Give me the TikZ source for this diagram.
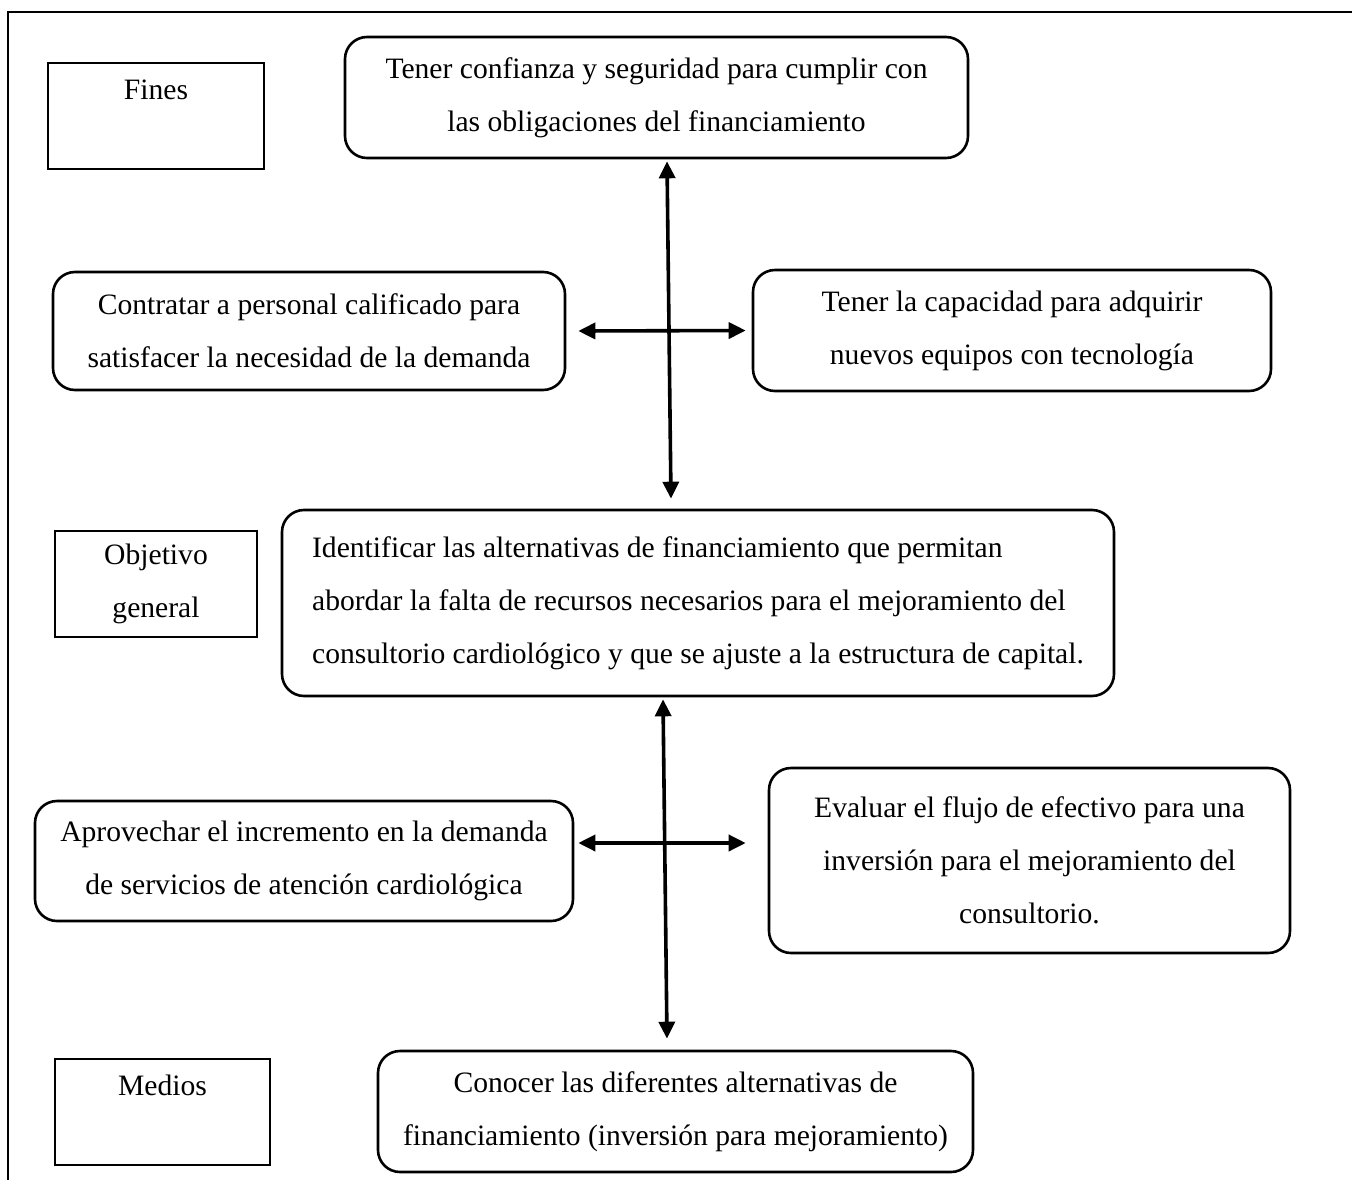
\documentclass[tikz,border=0pt]{standalone}
\usepackage{fontspec}
\setmainfont{Liberation Serif}
\usetikzlibrary{arrows.meta,calc}
\begin{document}
\begin{tikzpicture}[x=1pt,y=-1pt,
  txt/.style={font=\fontsize{29.6}{53}\selectfont, align=center, inner sep=0pt, line width=2.6pt, draw},
  sqbox/.style={txt},
  rbox/.style={txt, rounded corners=22pt},
  dbl/.style={{Triangle[length=17pt,width=16pt]}-{Triangle[length=17pt,width=16pt]}, line width=3.6pt}]
\useasboundingbox (0,0) rectangle (1352,1180);
\draw[line width=2.6pt] (8,1190) -- (8,12) -- (1362,12);

\node[sqbox, minimum width=216pt, minimum height=106pt] (fines) at (156,116) {Fines\\ ~};
\node[rbox, minimum width=623pt, minimum height=121pt] (top) at (656.5,97.5)
  {Tener confianza y seguridad para cumplir con\\las obligaciones del financiamiento};
\node[rbox, minimum width=512pt, minimum height=118pt] (contratar) at (309,331)
  {Contratar a personal calificado para\\satisfacer la necesidad de la demanda};
\node[rbox, minimum width=518pt, minimum height=121pt] (capacidad) at (1012,330.5)
  {Tener la capacidad para adquirir\\nuevos equipos con tecnología};
\node[sqbox, minimum width=202pt, minimum height=106pt] (objetivo) at (156,584)
  {Objetivo\\general};
\node[rbox, align=left, minimum width=832pt, minimum height=186pt] (big) at (698,603)
  {Identificar las alternativas de financiamiento que permitan\\abordar la falta de recursos necesarios para el mejoramiento del\\consultorio cardiológico y que se ajuste a la estructura de capital.};
\node[rbox, minimum width=538pt, minimum height=120pt] (aprovechar) at (304,861)
  {Aprovechar el incremento en la demanda\\de servicios de atención cardiológica};
\node[rbox, minimum width=521pt, minimum height=185pt] (evaluar) at (1029.5,860.5)
  {Evaluar el flujo de efectivo para una\\inversión para el mejoramiento del\\consultorio.};
\node[sqbox, minimum width=215pt, minimum height=106pt] (medios) at (162.5,1112)
  {Medios\\ ~};
\node[rbox, minimum width=595pt, minimum height=121pt] (bottom) at (675.5,1111.5)
  {Conocer las diferentes alternativas de\\financiamiento (inversión para mejoramiento)};

\draw[dbl] ([xshift=10.5pt,yshift=-2pt]top.south) -- ([xshift=-27pt,yshift=10pt]big.north);
\draw[dbl] ([xshift=12pt]contratar.east) -- ([xshift=-6pt]capacidad.west);
\draw[dbl] ([xshift=-35pt,yshift=-2pt]big.south) -- ([xshift=-8.5pt,yshift=11pt]bottom.north);
\draw[dbl] ([xshift=4pt,yshift=18pt]aprovechar.east) -- ([xshift=-22pt,yshift=17.5pt]evaluar.west);
\end{tikzpicture}
\end{document}
